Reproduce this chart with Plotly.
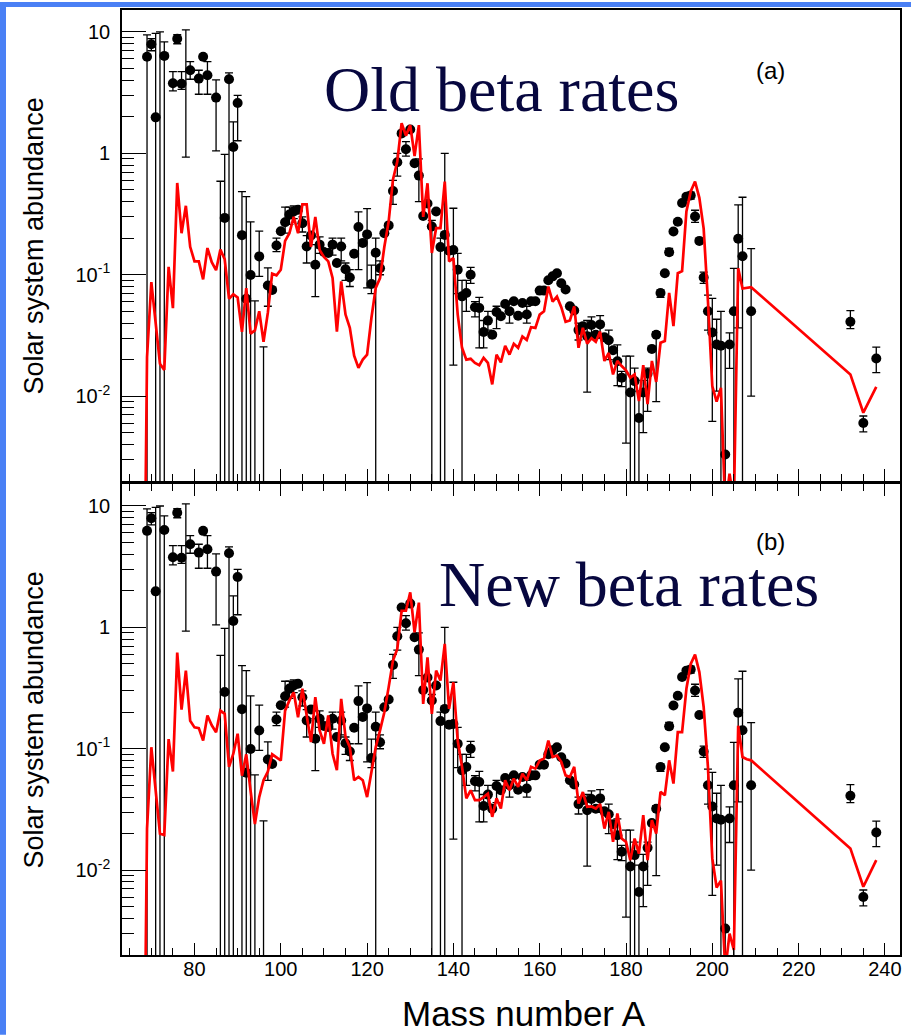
import plotly.graph_objects as go

# ---------------- data ----------------
# solar-system r-abundances (points with error bars)
pt_A = [69, 70, 71, 73, 75, 76, 77, 79, 81, 82, 83, 85, 87, 88, 89, 90, 91, 92, 93, 95,
        97, 98, 99, 100, 101, 102, 103, 104, 105, 106, 107, 108, 109, 110, 111, 112, 113, 114, 115, 116,
        117, 118, 119, 120, 121, 122, 123, 124, 125, 126, 127, 128, 129, 130, 131, 132, 133, 134, 135, 136,
        137, 138, 139, 140, 141, 142, 143, 144, 145, 146, 147, 148, 149, 150, 151, 152, 153, 154, 155, 156,
        157, 158, 159, 160, 161, 162, 163, 164, 165, 166, 167, 168, 169, 170, 171, 172, 173, 174, 175, 176,
        177, 178, 179, 181, 182, 183, 184, 185, 186, 187, 188, 189, 190, 191, 192, 193, 194, 195, 196, 197,
        198, 199, 200, 201, 202, 203, 204, 205, 206, 207, 209, 232, 235, 238]
pt_val = [6.24, 7.92, 1.98, 6.35, 3.78, 8.8, 3.75, 4.84, 4.13, 6.24, 4.4, 2.88, 0.294, 4.08, 1.13, 2.6, 0.212, 0.0635, 0.0994, 0.1416,
          0.0816, 0.075, 0.174, 0.228, 0.271, 0.313, 0.332, 0.343, 0.266, 0.171, 0.211, 0.121, 0.177, 0.154, 0.151, 0.177, 0.125, 0.171, 0.111, 0.095,
          0.149, 0.247, 0.183, 0.215, 0.084, 0.152, 0.113, 0.22, 0.255, 0.49, 0.844, 1.46, 1.08, 1.57, 0.83, 0.656, 0.305, 0.386, 0.25, 0.332,
          0.169, 0.213, 0.158, 0.16, 0.11, 0.0664, 0.0708, 0.1, 0.054, 0.0532, 0.0338, 0.0419, 0.0321, 0.0494, 0.0455, 0.0575, 0.05, 0.0604, 0.046, 0.0586,
          0.047, 0.0604, 0.0604, 0.074, 0.074, 0.09, 0.097, 0.103, 0.085, 0.0755, 0.055, 0.0507, 0.035, 0.0377, 0.0312, 0.0385, 0.032, 0.039, 0.0305, 0.0289,
          0.0239, 0.0194, 0.0142, 0.0107, 0.0133, 0.0066, 0.0107, 0.0153, 0.0245, 0.032, 0.0707, 0.103, 0.153, 0.227, 0.273, 0.39, 0.44, 0.45, 0.302, 0.19,
          0.095, 0.05, 0.0334, 0.0266, 0.026, 0.0033, 0.0266, 0.05, 0.198, 0.142, 0.05, 0.041, 0.006, 0.0204]
# lower / upper ends of the error bars (0 = bar reaches down past the axis)
pt_lo = [0, 7.0, 0, 0, 3.27, 8.0, 3.37, 4.08, 3.07, 6.24, 3.07, 1.05, 0, 0, 0, 1.27, 0, 0, 0, 0.097,
         0.055, 0.075, 0.155, 0.228, 0.22, 0.26, 0.29, 0.343, 0.225, 0.125, 0.211, 0.066, 0.15, 0.154, 0.151, 0.145, 0.125, 0.13, 0.09, 0.08,
         0.149, 0.11, 0.183, 0.078, 0.07, 0, 0.1, 0.22, 0.255, 0.38, 0.65, 1.46, 0.95, 1.57, 0.83, 0.4, 0.305, 0.386, 0, 0.332,
         0, 0, 0.158, 0.018, 0.07, 0, 0.05, 0.085, 0.045, 0.025, 0.025, 0.035, 0.0321, 0.036, 0.0455, 0.0575, 0.04, 0.0604, 0.046, 0.0586,
         0.04, 0.0604, 0.0604, 0.074, 0.074, 0.09, 0.097, 0.103, 0.085, 0.0755, 0.055, 0.0507, 0.029, 0.0377, 0.0108, 0.033, 0.032, 0.03, 0.0305, 0.02,
         0.0239, 0.0122, 0.012, 0, 0, 0, 0.005, 0.0075, 0.0245, 0.009, 0.065, 0.103, 0.145, 0.227, 0.273, 0.39, 0.44, 0.42, 0.27, 0.19,
         0.085, 0.035, 0.0062, 0.011, 0, 0, 0.0169, 0, 0.0365, 0, 0.01, 0.036, 0.00507, 0.0156]
pt_hi = [9.45, 8.8, 9.75, 8.3, 4.72, 9.5, 4.72, 5.7, 4.84, 6.24, 5.7, 4.03, 0.98, 4.6, 1.82, 3.0, 0.484, 0.44, 0.273, 0.229,
         0.114, 0.075, 0.2, 0.228, 0.36, 0.36, 0.37, 0.343, 0.3, 0.21, 0.211, 0.177, 0.205, 0.154, 0.151, 0.2, 0.125, 0.2, 0.125, 0.11,
         0.149, 0.33, 0.183, 0.35, 0.12, 0.2, 0.13, 0.22, 0.255, 0.6, 1.0, 1.46, 1.25, 1.57, 0.83, 0.9, 0.305, 0.386, 0.28, 0.332,
         0.2, 1.0, 0.158, 0.353, 0.15, 0.09, 0.09, 0.115, 0.06, 0.065, 0.042, 0.05, 0.0321, 0.055, 0.0455, 0.0575, 0.052, 0.0604, 0.046, 0.0586,
         0.055, 0.0604, 0.0604, 0.074, 0.074, 0.09, 0.097, 0.103, 0.085, 0.0755, 0.055, 0.0507, 0.04, 0.0377, 0.042, 0.045, 0.032, 0.046, 0.0305, 0.035,
         0.0239, 0.0264, 0.016, 0.0214, 0.017, 0.011, 0.0135, 0.017, 0.0245, 0.034, 0.075, 0.103, 0.165, 0.227, 0.273, 0.39, 0.44, 0.48, 0.34, 0.19,
         0.105, 0.068, 0.064, 0.043, 0.05, 0.026, 0.0332, 0.113, 0.377, 0.435, 0.164, 0.0507, 0.00686, 0.0253]
# error bars drawn without a visible point
bar_A = [72, 78, 86, 94, 96, 180]
bar_lo = [0, 0.93, 0, 0, 0, 0.0041]
bar_hi = [10.0, 10.4, 0.589, 0.061, 0.0255, 0.0214]

# network calculation (red curves)
model_A = list(range(68, 210)) + [232, 235, 238]
model_old = [1e-5, 0.021, 0.087, 0.041, 0.0185, 0.0164, 0.116, 0.053, 0.57, 0.22,
             0.37, 0.17, 0.129, 0.129, 0.0916, 0.166, 0.127, 0.109, 0.161, 0.134,
             0.0635, 0.069, 0.065, 0.0338, 0.0777, 0.0327, 0.0348, 0.05, 0.028, 0.0487,
             0.102, 0.099, 0.11, 0.19, 0.22, 0.30, 0.22, 0.38, 0.38, 0.17,
             0.30, 0.16, 0.14, 0.129, 0.094, 0.034, 0.088, 0.047, 0.0365, 0.0215,
             0.0171, 0.020, 0.022, 0.044, 0.078, 0.094, 0.17, 0.275, 0.61, 0.855,
             1.77, 1.40, 1.71, 0.95, 1.71, 0.30, 0.567, 0.151, 0.242, 0.242,
             0.585, 0.129, 0.137, 0.047, 0.025, 0.020, 0.0203, 0.0188, 0.018, 0.0207,
             0.0188, 0.0125, 0.022, 0.019, 0.026, 0.022, 0.027, 0.025, 0.031, 0.029,
             0.037, 0.0365, 0.047, 0.05, 0.08, 0.06, 0.066, 0.054, 0.041, 0.042,
             0.055, 0.025, 0.0365, 0.027, 0.030, 0.028, 0.034, 0.0195, 0.0227, 0.0151,
             0.0195, 0.0177, 0.0163, 0.0142, 0.0151, 0.0091, 0.018, 0.0086, 0.0195, 0.0131,
             0.0275, 0.0284, 0.071, 0.0377, 0.103, 0.107, 0.332, 0.485, 0.586, 0.43,
             0.24, 0.06, 0.0121, 0.0090, 0.0117, 0.0012, 0.0023, 0.0013, 0.113, 0.077,
             0.078, 0.079, 0.0151, 0.0073, 0.0119]
model_new = [1e-5, 0.022, 0.103, 0.042, 0.02, 0.0195, 0.12, 0.065, 0.62, 0.21,
             0.44, 0.17, 0.15, 0.148, 0.117, 0.188, 0.156, 0.137, 0.206, 0.194,
             0.071, 0.091, 0.133, 0.06, 0.09, 0.045, 0.024, 0.04, 0.055, 0.065,
             0.09, 0.085, 0.08, 0.206, 0.25, 0.292, 0.182, 0.312, 0.182, 0.1135,
             0.266, 0.1415, 0.110, 0.188, 0.091, 0.0665, 0.258, 0.125, 0.103, 0.055,
             0.0586, 0.055, 0.040, 0.0624, 0.103, 0.1415, 0.20, 0.322, 0.532, 0.664,
             1.37, 1.37, 1.94, 0.91, 1.6, 0.234, 0.567, 0.194, 0.44, 0.365,
             0.73, 0.213, 0.353, 0.117, 0.071, 0.039, 0.0455, 0.0377, 0.0377, 0.040,
             0.0427, 0.0275, 0.039, 0.0322, 0.055, 0.0455, 0.0568, 0.0485, 0.0624, 0.055,
             0.071, 0.0686, 0.080, 0.083, 0.117, 0.0855, 0.088, 0.078, 0.0604, 0.0586,
             0.071, 0.0354, 0.044, 0.0332, 0.0335, 0.0322, 0.035, 0.022, 0.0302, 0.0171,
             0.0293, 0.0182, 0.0171, 0.0121, 0.0182, 0.0137, 0.0284, 0.0121, 0.0258, 0.020,
             0.0441, 0.0414, 0.0803, 0.0517, 0.137, 0.137, 0.312, 0.5, 0.597, 0.428,
             0.22, 0.07, 0.0125, 0.0072, 0.0082, 0.0015, 0.003, 0.0022, 0.155, 0.0855,
             0.082, 0.0803, 0.0151, 0.0073, 0.0121]

y_tickvals = [0.01, 0.1, 1, 10]
y_ticktext = ["10<sup>-2</sup>", "10<sup>-1</sup>", "1", "10"]
x_tickvals = [80, 100, 120, 140, 160, 180, 200, 220, 240]

# ---------------- figure ----------------
FLOOR = 1e-4  # bars reaching below the frame


def low(v):
    return v if v > 0 else FLOOR


err_x = pt_A + bar_A
err_y = pt_val + bar_hi
err_plus = [h - v for h, v in zip(pt_hi, pt_val)] + [0.0] * len(bar_A)
err_minus = [v - low(l) for v, l in zip(pt_val, pt_lo)] + [h - low(l) for h, l in zip(bar_hi, bar_lo)]

fig = go.Figure()

for xa, ya, model in (("x2", "y2", model_old), ("x", "y", model_new)):
    fig.add_trace(go.Scatter(
        x=err_x, y=err_y, xaxis=xa, yaxis=ya, mode="markers",
        marker=dict(size=1, color="rgba(0,0,0,0)"),
        error_y=dict(type="data", symmetric=False, array=err_plus, arrayminus=err_minus,
                     color="black", thickness=1.3, width=4),
        hoverinfo="skip", showlegend=False))
    fig.add_trace(go.Scatter(
        x=pt_A, y=pt_val, xaxis=xa, yaxis=ya, mode="markers",
        marker=dict(size=10, color="black", line=dict(width=0)),
        showlegend=False))
    fig.add_trace(go.Scatter(
        x=model_A, y=model, xaxis=xa, yaxis=ya, mode="lines",
        line=dict(color="#ff0000", width=2.7),
        showlegend=False))

XR = [63.2, 243.5]
YR = [-2.699, 1.181]
minor_y = [k * 10 ** e for e in (-3, -2, -1, 0, 1) for k in range(2, 10)]
minor_y = [v for v in minor_y if 0.002 <= v <= 15]

tickfont = dict(family="Liberation Sans, Arial, sans-serif", size=20, color="black")

common_x = dict(range=XR, showgrid=False, zeroline=False, showline=True, linecolor="black",
                linewidth=1.6, ticks="inside", ticklen=12, tickwidth=1.4, tickcolor="black",
                tickvals=x_tickvals, tickfont=tickfont,
                minor=dict(ticks="inside", ticklen=7, tickwidth=1.2, tickcolor="black", dtick=5, tick0=80))
common_y = dict(type="log", range=YR, showgrid=False, zeroline=False, showline=True,
                linecolor="black", linewidth=1.6, mirror=True, ticks="inside", ticklen=24,
                tickwidth=1.4, tickcolor="black", tickvals=y_tickvals, ticktext=y_ticktext,
                tickfont=tickfont, ticklabelstandoff=6,
                minor=dict(ticks="inside", ticklen=12, tickwidth=1.2, tickcolor="black", tickvals=minor_y))

fig.update_layout(
    width=911, height=1035,
    margin=dict(l=122, r=11, t=8, b=80, pad=0),
    paper_bgcolor="white", plot_bgcolor="white", showlegend=False,
    xaxis=dict(domain=[0, 1], anchor="y", mirror="ticks", ticklabelstandoff=-5, **common_x),
    yaxis=dict(domain=[0, 0.4984], anchor="x", **common_y),
    xaxis2=dict(domain=[0, 1], anchor="y2", mirror=True, showticklabels=False, matches="x", **common_x),
    yaxis2=dict(domain=[0.5016, 1], anchor="x2", **common_y),
)


def px(xp):
    return (xp - 122) / 778.0


def py(yp):
    return (955 - yp) / 947.0


ann = []
ytitle_font = dict(family="Liberation Sans, Arial, sans-serif", size=27, color="black")
for yc in (245, 720):
    ann.append(dict(text="Solar system abundance", xref="paper", yref="paper", x=px(34), y=py(yc),
                    textangle=-90, showarrow=False, xanchor="center", yanchor="middle", font=ytitle_font))
ann.append(dict(text="Mass number A", xref="paper", yref="paper", x=px(524), y=py(1014),
                showarrow=False, xanchor="center", yanchor="middle",
                font=dict(family="Liberation Sans, Arial, sans-serif", size=35, color="black")))
serif = dict(family="Liberation Serif, Times New Roman, serif", size=64, color="#07073f")
ann.append(dict(text="Old beta rates", xref="paper", yref="paper", x=px(501), y=py(88),
                showarrow=False, xanchor="center", yanchor="middle", font=serif))
ann.append(dict(text="New beta rates", xref="paper", yref="paper", x=px(629), y=py(584),
                showarrow=False, xanchor="center", yanchor="middle", font=serif))
lab = dict(family="Liberation Sans, Arial, sans-serif", size=24, color="black")
ann.append(dict(text="(a)", xref="paper", yref="paper", x=px(770), y=py(69),
                showarrow=False, xanchor="center", yanchor="middle", font=lab))
ann.append(dict(text="(b)", xref="paper", yref="paper", x=px(770), y=py(541),
                showarrow=False, xanchor="center", yanchor="middle", font=lab))
fig.update_layout(annotations=ann)

blue = "#4a80f5"
fig.update_layout(shapes=[
    dict(type="rect", xref="paper", yref="paper", x0=px(0), x1=px(6), y0=py(1035), y1=py(0),
         fillcolor=blue, line=dict(width=0), layer="above"),
    dict(type="rect", xref="paper", yref="paper", x0=px(0), x1=px(911), y0=py(5), y1=py(0),
         fillcolor=blue, line=dict(width=0), layer="above"),
])

fig.write_html("out.html")
